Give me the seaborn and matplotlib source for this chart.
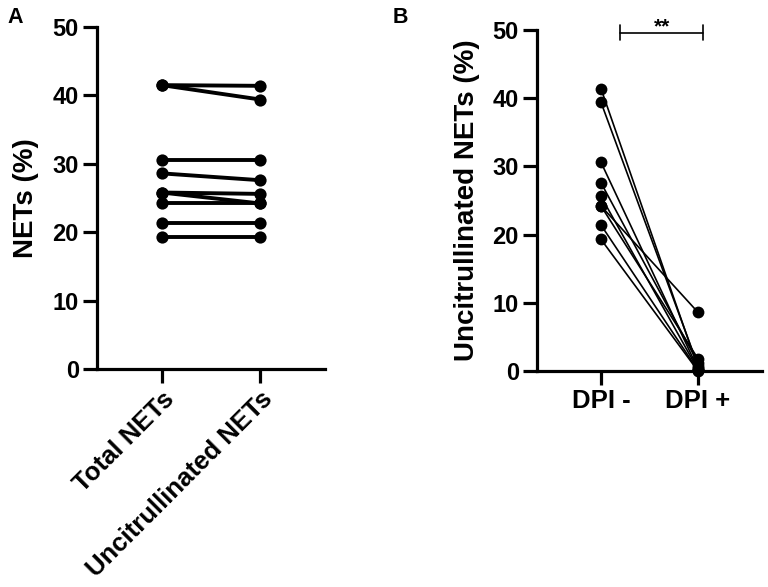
import pandas as pd
import numpy as np
import matplotlib
matplotlib.use("Agg")
import matplotlib.pyplot as plt
import seaborn as sns

# panel A: paired donors, total vs uncitrullinated NETs (%)
total_nets = [41.5, 41.5, 30.6, 28.6, 25.8, 25.8, 24.2, 21.4, 19.3]
uncit_nets = [41.4, 39.4, 30.6, 27.6, 25.6, 24.2, 24.2, 21.4, 19.3]
groups_a = ["Total NETs", "Uncitrullinated NETs"]

# panel B: uncitrullinated NETs without / with DPI
dpi_minus = [41.4, 39.4, 30.6, 27.6, 25.6, 24.2, 24.2, 21.4, 19.3]
dpi_plus = [0.5, 0.8, 0.3, 1.2, 0.2, 8.6, 1.8, 0.1, 0.0]
groups_b = ["DPI -", "DPI +"]

y_ticks = [0, 10, 20, 30, 40, 50]


def long_df(a, b, names):
    n = len(a)
    return pd.DataFrame({
        "pair": list(range(n)) * 2,
        "group": [names[0]] * n + [names[1]] * n,
        "value": list(a) + list(b),
    })


def style_axis(ax):
    sns.despine(ax=ax)
    for side in ["left", "bottom"]:
        ax.spines[side].set_linewidth(2.3)
        ax.spines[side].set_color("black")
    ax.tick_params(width=2.3, length=10, pad=3, colors="black")
    ax.tick_params(axis="y", labelsize=17)
    ax.tick_params(axis="x", labelsize=18.5)
    ax.set_ylim(0, 50)
    ax.set_yticks(y_ticks)
    ax.set_xlim(-0.66, 1.66)
    ax.set_xlabel("")
    for lab in ax.get_xticklabels() + ax.get_yticklabels():
        lab.set_fontweight("bold")


sns.set_theme(style="ticks")
plt.rcParams['font.family'] = ['Liberation Sans', 'DejaVu Sans']
plt.rcParams['text.color'] = 'black'
plt.rcParams['axes.labelcolor'] = 'black'

fig = plt.figure(figsize=(7.68, 5.87), dpi=100)
ax_a = fig.add_axes([0.1263, 0.3714, 0.2969, 0.5826])
ax_b = fig.add_axes([0.6992, 0.368, 0.293, 0.5809])

df_a = long_df(total_nets, uncit_nets, groups_a)
sns.lineplot(data=df_a, x="group", y="value", units="pair", estimator=None,
             color="black", marker="o", markersize=8.8, markeredgewidth=0,
             linewidth=2.8, ax=ax_a, clip_on=False)
style_axis(ax_a)
ax_a.set_ylabel("NETs (%)", fontsize=20, fontweight="bold", labelpad=10)
plt.setp(ax_a.get_xticklabels(), rotation=45, ha="right", va="top",
         rotation_mode="anchor")

df_b = long_df(dpi_minus, dpi_plus, groups_b)
sns.lineplot(data=df_b, x="group", y="value", units="pair", estimator=None,
             color="black", marker="o", markersize=8.5, markeredgewidth=0,
             linewidth=1.2, ax=ax_b, clip_on=False)
style_axis(ax_b)
ax_b.set_ylabel("Uncitrullinated NETs (%)", fontsize=20, fontweight="bold",
                labelpad=9)

# significance bracket
ax_b.plot([0.2, 1.05], [49.5, 49.5], color="black", lw=1.2, clip_on=False)
ax_b.plot([0.2, 0.2], [48.5, 50.7], color="black", lw=1.2, clip_on=False)
ax_b.plot([1.05, 1.05], [48.5, 50.7], color="black", lw=1.2, clip_on=False)
ax_b.text(0.63, 49.0, "**", ha="center", va="bottom", fontsize=15,
          fontweight="bold")

fig.text(0.01, 0.988, "A", fontsize=15.5, fontweight="bold", va="top")
fig.text(0.511, 0.988, "B", fontsize=15.5, fontweight="bold", va="top")

fig.savefig("out.png", dpi=100)
